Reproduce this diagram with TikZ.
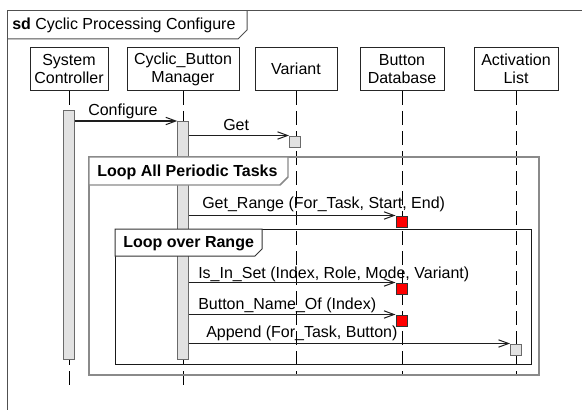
\documentclass[tikz,border=0pt]{standalone}
\usepackage{fontspec}
\setmainfont{Liberation Sans}
\usetikzlibrary{arrows.meta}
\definecolor{framegray}{HTML}{505050}
\definecolor{loopgray}{HTML}{8A8A8A}
\definecolor{barfill}{HTML}{E2E2E2}
\definecolor{baredge}{HTML}{6A6A6A}
\definecolor{msgline}{HTML}{1E1E1E}

\begin{document}
\begin{tikzpicture}[x=0.75pt,y=-0.75pt,
  every node/.style={font=\fontsize{12}{13.5}\selectfont},
  head/.style={draw=black!85, line width=0.75pt, fill=white, align=center,
    inner sep=0pt, minimum height=43*0.75pt, anchor=north},
  lifeline/.style={draw=black, line width=0.75pt, dash pattern=on 10.5pt off 4.5pt},
  actbar/.style={draw=baredge, fill=barfill, line width=0.75pt, inner sep=0pt,
    minimum width=10.5*0.75pt, anchor=north},
  msg/.style={draw=msgline, line width=0.75pt, -{Straight Barb[length=7.5pt,width=5.5pt]}},
  msglabel/.style={anchor=base west, inner sep=0pt},
  endbox/.style={draw=baredge, fill=barfill, line width=0.75pt, minimum size=8.25pt, inner sep=0pt},
  hitbox/.style={draw=black!80, fill=red, line width=0.75pt, minimum size=8.25pt, inner sep=0pt},
  tabtext/.style={anchor=base west, inner sep=0pt, font=\fontsize{12}{14}\selectfont\bfseries},
]
\useasboundingbox (0,0) rectangle (582,410);

% outer sd frame and its name tab
\draw[framegray, line width=0.75pt] (7,410) -- (7,11) -- (582,11);
\draw[framegray, line width=0.75pt] (7,39) -- (238,39) -- (247,30) -- (247,11);
\node[anchor=base west, inner sep=0pt] (title) at (12,30) {\textbf{sd} Cyclic Processing Configure};

% lifeline heads
\node[head, minimum width=78*0.75pt]  (sc)  at (69,47)  {System\\Controller};
\node[head, minimum width=112*0.75pt] (cbm) at (183,47) {Cyclic\_Button\\Manager};
\node[head, minimum width=82*0.75pt]  (var) at (296,47) {Variant};
\node[head, minimum width=84*0.75pt]  (bdb) at (402,47) {Button\\Database};
\node[head, minimum width=84*0.75pt]  (act) at (516,47) {Activation\\List};

% lifelines
\draw[lifeline] (sc.south)  -- (sc.south  |- 0,386);
\draw[lifeline] (cbm.south) -- (cbm.south |- 0,386);
\draw[lifeline] (var.south) -- (var.south |- 0,376);
\draw[lifeline] (bdb.south) -- (bdb.south |- 0,376);
\draw[lifeline] (act.south) -- (act.south |- 0,376);

% activation bars
\node[actbar, minimum height=249*0.75pt] (scbar)  at (69,110)  {};
\node[actbar, minimum height=238*0.75pt] (cbmbar) at (183,121) {};

% combined fragments
\draw[loopgray, line width=1.5pt] (89,157) rectangle (539,375);
\filldraw[fill=white, draw=loopgray, line width=1.1pt]
  (89,157) -- (288,157) -- (288,177) -- (280,185) -- (89,185) -- cycle;
\node[tabtext] (loopa) at (97,176) {Loop All Periodic Tasks};

\draw[black!90, line width=0.75pt] (115,229) rectangle (531,364);
\filldraw[fill=white, draw=black!80, line width=0.75pt]
  (115,229) -- (262,229) -- (262,249) -- (255,256) -- (115,256) -- cycle;
\node[tabtext] (loopb) at (123,247) {Loop over Range};

% execution end points
\node[endbox] (vb)  at (295,141.5)   {};
\node[hitbox] (rb1) at (401.5,221.5) {};
\node[hitbox] (rb2) at (401.5,288.5) {};
\node[hitbox] (rb3) at (401.5,320.5) {};
\node[endbox] (ab)  at (516,349.5)   {};

% messages
\draw[msg] (scbar.east |- cbmbar.north) -- (cbmbar.north west);
\node[msglabel] (lconf) at (88,115) {Configure};

\draw[msg] (cbmbar.east |- vb.north) -- (vb.north west);
\node[msglabel] (lget) at (223,130) {Get};

\draw[msg] (cbmbar.east |- rb1.north) -- (rb1.north west);
\node[msglabel] (lrange) at (202,208) {Get\_Range (For\_Task, Start, End)};

\draw[msg] (cbmbar.east |- rb2.north) -- (rb2.north west);
\node[msglabel] (lset) at (198,278) {Is\_In\_Set (Index, Role, Mode, Variant)};

\draw[msg] (cbmbar.east |- rb3.north) -- (rb3.north west);
\node[msglabel] (lname) at (198,309) {Button\_Name\_Of (Index)};

\draw[msg] (cbmbar.east |- ab.north) -- (ab.north west);
\node[msglabel] (lapp) at (206,337) {Append (For\_Task, Button)};
\end{tikzpicture}
\end{document}
